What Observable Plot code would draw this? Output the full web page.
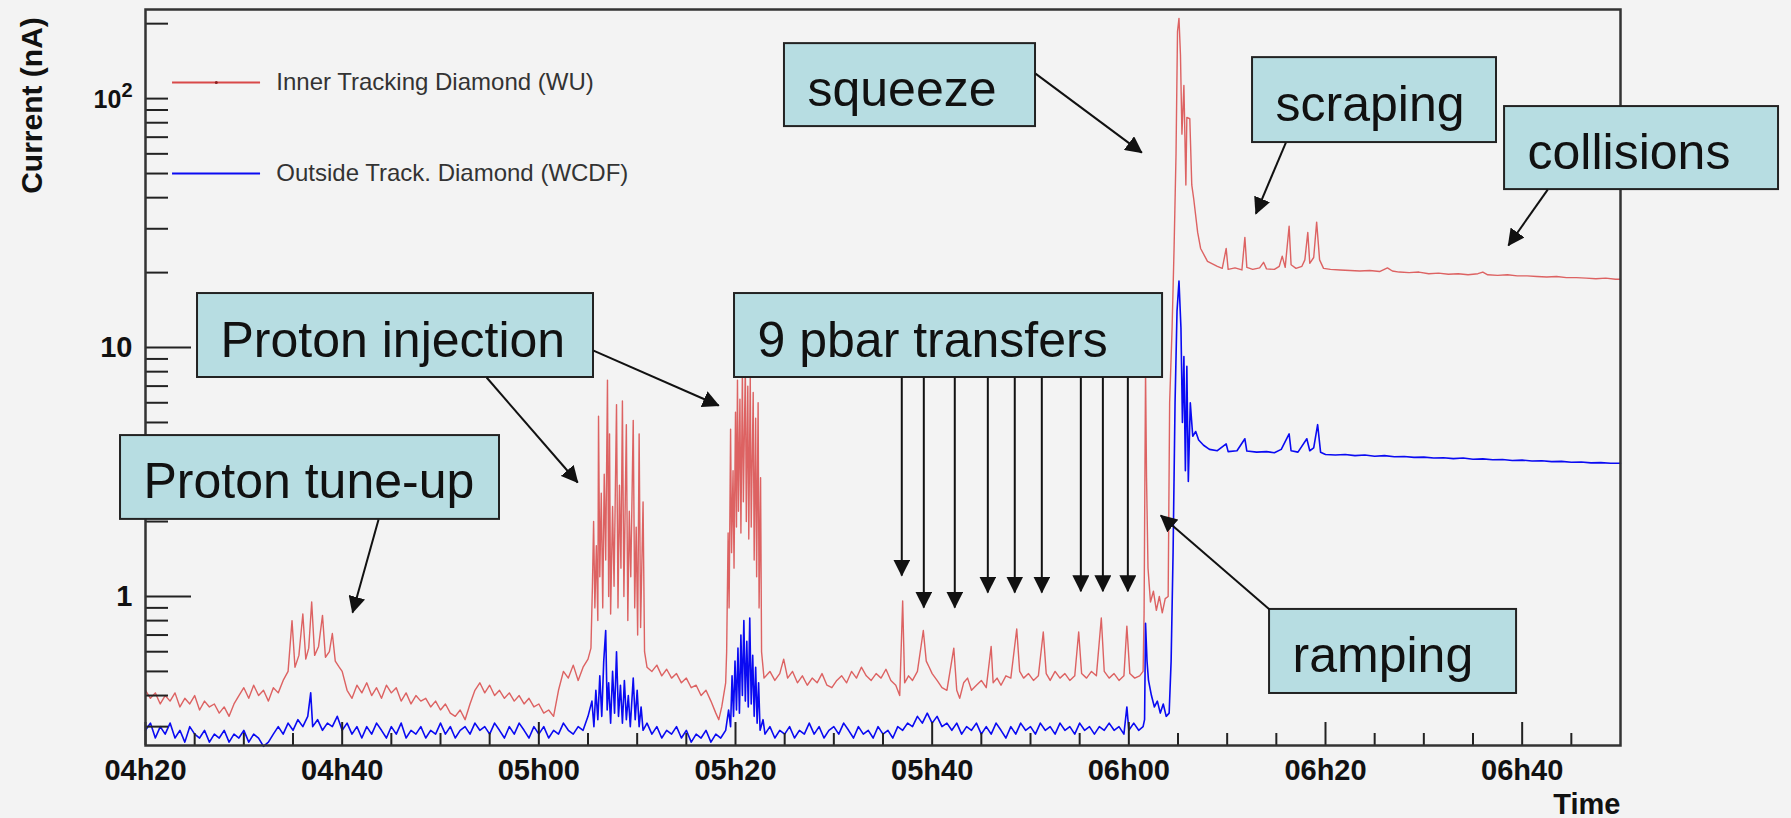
<!DOCTYPE html>
<html><head><meta charset="utf-8">
<script src="https://cdn.jsdelivr.net/npm/d3@7"></script>
<script src="https://cdn.jsdelivr.net/npm/@observablehq/plot@0.6"></script>
<style>
html,body{margin:0;padding:0;background:#f3f3f3;}
</style></head><body><div id="chart"></div>
<script>
// ---- data: [minutes after 04h20, current in nA] ----
const innerSeries = [
[0,.42],[.5,.39],[1,.41],[1.5,.37],[2,.40],[2.5,.38],[3,.41],[3.5,.36],[4,.39],[4.5,.37],[5,.40],[5.5,.35],[6,.38],[6.5,.36],[7,.37],[7.5,.34],[8,.36],[8.5,.33],[9,.37],[9.5,.40],
[10,.43],[10.5,.39],[11,.44],[11.5,.40],[12,.42],[12.5,.38],[13,.43],[13.5,.41],[14,.46],[14.5,.50],[14.9,.80],[15.2,.52],[15.6,.58],[16,.85],[16.3,.56],[16.6,.62],[16.9,.95],[17.2,.58],[17.6,.63],[18,.84],
[18.3,.57],[18.7,.60],[19,.71],[19.3,.55],[19.7,.52],[20,.50],[20.5,.42],[21,.39],[21.5,.44],[22,.41],[22.5,.45],[23,.40],[23.5,.43],[24,.39],[24.5,.44],[25,.41],[25.5,.43],[26,.38],[26.5,.41],[27,.37],
[27.5,.40],[28,.38],[28.5,.39],[29,.36],[29.5,.38],[30,.35],[30.5,.37],[31,.34],[31.5,.33],[32,.35],[32.5,.32],[33,.37],[33.5,.42],[34,.45],[34.5,.41],[35,.44],[35.5,.40],[36,.42],[36.5,.39],[37,.41],
[37.5,.38],[38,.40],[38.5,.37],[39,.39],[39.5,.36],[40,.37],[40.5,.34],[41,.35],[41.5,.33],[42,.42],[42.5,.50],[43,.47],[43.5,.53],[44,.46],[44.5,.52],[45,.56],
[45.3,.62],[45.45,1.1],[45.57,2.0],[45.7,.9],[45.85,1.6],[46,.8],[46.07,5.3],[46.2,1.2],[46.35,2.6],[46.5,.9],[46.65,3.1],[46.8,1.4],[46.98,7.4],[47.1,1.0],[47.19,4.5],[47.3,.85],[47.5,2.3],[47.65,1.1],[47.9,5.9],[48.05,.9],
[48.2,2.8],[48.35,1.3],[48.5,6.1],[48.65,1.0],[48.9,4.9],[49.05,.8],[49.2,2.2],[49.35,1.2],[49.6,5.1],[49.75,.9],[49.9,1.9],[50.05,.7],[50.2,4.5],[50.35,.75],[50.6,2.4],[50.75,.6],[51,.52],
[51.5,.50],[52,.53],[52.5,.48],[53,.51],[53.5,.47],[54,.49],[54.5,.45],[55,.47],[55.5,.43],[56,.44],[56.5,.40],[57,.42],[57.5,.38],[58,.34],[58.3,.32],[58.6,.36],[59,.45],
[59.1,.6],[59.25,1.8],[59.35,.9],[59.5,4.7],[59.6,1.5],[59.75,3.2],[59.85,1.3],[60,5.5],[60.1,1.9],[60.2,7.4],[60.3,2.2],[60.45,6.2],[60.55,1.8],[60.7,7.9],[60.8,2.4],[61,8.4],[61.1,2.0],[61.25,7.0],[61.35,1.7],[61.5,7.6],
[61.6,1.9],[61.8,6.6],[61.9,1.4],[62.05,5.2],[62.15,1.2],[62.3,6.0],[62.4,.9],[62.55,3.0],[62.65,.6],[62.9,.47],
[63.5,.50],[64,.46],[64.5,.49],[64.9,.56],[65.3,.47],[65.8,.50],[66.3,.45],[66.8,.48],[67.3,.44],[67.8,.47],[68.3,.45],[68.8,.49],[69.3,.44],[69.8,.43],[70.3,.46],[70.8,.48],[71.3,.45],[71.8,.50],[72.3,.47],[72.8,.52],
[73.3,.48],[73.8,.46],[74.3,.49],[74.8,.47],[75.3,.51],[75.8,.46],[76.3,.44],[76.7,.40],[77,.96],[77.2,.45],[77.6,.48],[78,.46],[78.5,.50],[79.1,.73],[79.4,.55],[79.7,.52],[80,.49],[80.5,.46],[81,.43],[81.5,.42],
[82.2,.62],[82.5,.42],[82.8,.39],[83.2,.45],[83.6,.47],[84,.42],[84.5,.44],[85,.46],[85.5,.43],[86,.63],[86.2,.45],[86.6,.47],[87,.44],[87.5,.48],[88,.47],[88.6,.74],[88.9,.50],[89.3,.47],[89.8,.49],[90.3,.46],
[90.8,.48],[91.3,.72],[91.6,.49],[92,.46],[92.5,.50],[93,.47],[93.5,.49],[94,.46],[94.5,.48],[94.9,.72],[95.2,.49],[95.7,.47],[96.2,.50],[96.7,.48],[97.2,.82],[97.5,.50],[98,.47],[98.5,.49],[99,.46],[99.5,.48],
[99.8,.76],[100.1,.49],[100.6,.47],[101.1,.48],[101.45,.50],
[101.55,.85],[101.7,8.1],[101.8,3.0],[101.95,1.3],[102.2,.95],[102.5,1.05],[102.8,.88],[103.1,1.0],[103.4,.86],[103.7,.98],[104,1.0],[104.15,6],[104.4,12],[104.6,25],[104.8,60],[104.95,186],[105.1,210],[105.25,150],[105.4,72],[105.6,113],
[105.8,45],[105.9,84],[106.2,83],[106.4,45],[106.6,39.5],[107,29],[107.3,25],[108,22.2],[109,21.2],
[109.5,20.8],[109.9,25],[110.1,20.6],[110.8,20.9],[111.5,20.5],[111.8,27.7],[112,21.0],[112.6,20.6],[113.3,20.9],[113.7,22],[114,20.7],[114.8,20.6],[115.3,21.2],[115.6,23.3],[115.9,21.0],[116.3,30.7],[116.5,21.5],[117,20.8],[117.6,21.2],[117.9,22.5],
[118.2,29],[118.4,21.8],[118.8,23],[119.1,31.9],[119.4,22.5],[119.8,20.8],[120.5,20.6],[121.5,20.5],[122.5,20.4],[123.5,20.3],[124.5,20.4],[125.5,20.2],[126.3,20.9],[126.8,20.3],[127.5,20.1],[128.5,20.0],[129.5,20.1],[130.5,19.8],[131.5,19.9],[132.5,19.7],
[133.5,19.8],[134.5,19.6],[135.5,19.8],[136,20.1],[136.5,19.6],[137.5,19.5],[138.5,19.6],[139.5,19.4],[140.5,19.4],[141.5,19.3],[142.5,19.2],[143.5,19.3],[144.5,19.1],[145.5,19.1],[146.5,19.0],[147.5,18.9],[148.5,19.0],[149.5,18.8],[150,18.8]
];
const outerSeries = [
[0,.29],[.5,.31],[1,.27],[1.5,.30],[2,.28],[2.5,.31],[3,.27],[3.5,.29],[4,.26],[4.5,.30],[5,.28],[5.5,.27],[6,.29],[6.5,.26],[7,.28],[7.5,.27],[8,.29],[8.5,.26],[9,.28],[9.5,.27],
[10,.29],[10.5,.26],[11,.28],[11.5,.27],[12,.25],[12.5,.26],[13,.28],[13.5,.30],[14,.28],[14.5,.31],[15,.29],[15.5,.32],[16,.30],[16.5,.33],[16.8,.41],[17,.30],[17.5,.32],[18,.29],[18.5,.31],[19,.30],
[19.5,.33],[20,.29],[20.5,.31],[21,.28],[21.5,.30],[22,.27],[22.5,.30],[23,.28],[23.5,.31],[24,.29],[24.5,.27],[25,.30],[25.5,.28],[26,.31],[26.5,.27],[27,.29],[27.5,.28],[28,.30],[28.5,.27],[29,.29],
[29.5,.28],[30,.31],[30.5,.28],[31,.30],[31.5,.27],[32,.29],[32.5,.30],[33,.28],[33.5,.31],[34,.29],[34.5,.30],[35,.28],[35.5,.31],[36,.29],[36.5,.27],[37,.30],[37.5,.28],[38,.31],[38.5,.29],[39,.27],
[39.5,.30],[40,.28],[40.5,.30],[41,.27],[41.5,.29],[42,.28],[42.5,.31],[43,.29],[43.5,.28],[44,.30],[44.5,.29],[45,.33],
[45.4,.38],[45.6,.30],[45.8,.42],[46,.32],[46.2,.48],[46.4,.33],[46.6,.55],[46.8,.73],[46.95,.35],[47.1,.45],[47.3,.31],[47.5,.50],[47.7,.34],[47.9,.60],[48.1,.33],[48.3,.44],[48.5,.31],[48.7,.46],[48.9,.32],[49.1,.40],
[49.3,.30],[49.6,.47],[49.8,.32],[50,.42],[50.2,.30],[50.4,.36],[50.6,.29],[51,.31],[51.5,.28],[52,.30],[52.5,.27],[53,.29],[53.5,.28],[54,.30],[54.5,.27],[55,.29],[55.5,.26],[56,.28],[56.5,.27],[57,.29],
[57.5,.26],[58,.28],[58.5,.27],[59,.29],
[59.3,.35],[59.5,.30],[59.65,.48],[59.8,.33],[59.95,.55],[60.1,.35],[60.25,.62],[60.4,.34],[60.55,.70],[60.7,.40],[60.85,.80],[61,.38],[61.15,.66],[61.3,.36],[61.45,.82],[61.6,.37],[61.75,.58],[61.9,.33],[62.05,.52],[62.2,.31],
[62.35,.45],[62.5,.29],[62.8,.32],[63,.28],
[63.5,.30],[64,.27],[64.5,.29],[65,.28],[65.5,.30],[66,.27],[66.5,.29],[67,.28],[67.5,.31],[68,.28],[68.5,.30],[69,.27],[69.5,.29],[70,.30],[70.5,.28],[71,.31],[71.5,.29],[72,.27],[72.5,.30],[73,.28],
[73.5,.29],[74,.27],[74.5,.30],[75,.28],[75.5,.29],[76,.27],[76.5,.30],[77,.29],[77.5,.31],[78,.30],[78.5,.33],[79,.31],[79.5,.34],[80,.31],[80.5,.33],[81,.30],[81.5,.31],[82,.29],[82.5,.31],[83,.28],
[83.5,.30],[84,.29],[84.5,.31],[85,.28],[85.5,.30],[86,.28],[86.5,.31],[87,.29],[87.5,.27],[88,.30],[88.5,.28],[89,.31],[89.5,.29],[90,.30],[90.5,.28],[91,.31],[91.5,.29],[92,.30],[92.5,.28],[93,.31],
[93.5,.29],[94,.30],[94.5,.28],[95,.31],[95.5,.29],[96,.30],[96.5,.28],[97,.30],[97.5,.29],[98,.31],[98.5,.29],[99,.30],[99.5,.28],[99.8,.36],[100,.29],[100.5,.31],[101,.29],[101.45,.30],
[101.6,.32],[101.7,.78],[101.85,.55],[102,.46],[102.3,.40],[102.6,.36],[102.9,.38],[103.2,.34],[103.5,.37],[103.8,.33],[104.1,.34],[104.3,.55],[104.5,1.5],[104.7,6],[104.9,14],[105.1,18.5],[105.3,12],[105.45,5],[105.6,9.2],[105.75,3.2],
[105.9,8.4],[106.05,2.9],[106.25,6.0],[106.5,4.4],[106.8,4.6],[107.1,4.25],[107.6,4.05],[108.2,3.9],[109,3.85],[109.9,4.1],[110.1,3.82],[111,3.85],[111.8,4.3],[112,3.84],[113,3.8],[114,3.82],[114.8,3.78],[115.5,3.9],[116.3,4.5],[116.5,3.85],
[117.2,3.8],[118.1,4.3],[118.4,3.85],[118.8,3.95],[119.2,4.9],[119.5,3.8],[120,3.72],[121,3.70],[122,3.72],[123,3.68],[124,3.70],[125,3.66],[126,3.68],[127,3.64],[128,3.65],[129,3.62],[130,3.63],[131,3.60],[132,3.61],[133,3.58],
[134,3.60],[135,3.56],[136,3.57],[137,3.54],[138,3.55],[139,3.52],[140,3.53],[141,3.50],[142,3.51],[143,3.48],[144,3.49],[145,3.46],[146,3.47],[147,3.44],[148,3.45],[149,3.43],[150,3.43]
];
const seriesNames = ["Inner Tracking Diamond (WU)", "Outside Track. Diamond (WCDF)"];
const seriesColors = ["#d84848", "#0a0af2"];

// axes
const xTickMinutes = [0, 20, 40, 60, 80, 100, 120, 140];
const xTickLabels = ["04h20", "04h40", "05h00", "05h20", "05h40", "06h00", "06h20", "06h40"];
const xMinorMinutes = [5,10,15,25,30,35,45,50,55,65,70,75,85,90,95,105,110,115,125,130,135,145];
const yLabelValues = [1, 10, 100];
const yLabelTexts = ["1", "10", "10²"];
const yLongTicks = [1, 10];
const yShortTicks = [0.3,0.4,0.5,0.6,0.7,0.8,0.9,2,3,4,5,6,7,8,9,20,30,40,50,60,70,80,90,100,200];

// annotations (data coordinates: minutes after 04h20, nA)
const boxLabels = ["squeeze", "scraping", "collisions", "Proton injection", "9 pbar transfers", "Proton tune-up", "ramping"];
const boxStart = [64.98, 112.58, 138.21, 5.29, 59.90, -2.54, 114.31];
const boxEnd   = [90.51, 137.39, 166.07, 45.56, 103.43, 36.0, 139.43];
const boxLow   = [77.2, 66.6, 43.1, 7.58, 7.58, 2.04, 0.4077];
const boxHigh  = [166.3, 146.1, 92.9, 16.48, 16.48, 4.43, 0.887];
const arrowFromT = [23.70, 34.69, 45.56, 90.51, 115.97, 142.6, 114.31, 76.91, 79.15, 82.30, 85.66, 88.40, 91.15, 95.12, 97.36, 99.90];
const arrowFromV = [2.04, 7.58, 9.72, 126.0, 66.6, 43.1, 0.887, 7.58, 7.58, 7.58, 7.58, 7.58, 7.58, 7.58, 7.58, 7.58];
const arrowToT   = [21.06, 43.95, 58.29, 101.32, 112.92, 138.6, 103.25, 76.91, 79.15, 82.30, 85.66, 88.40, 91.15, 95.12, 97.36, 99.90];
const arrowToV   = [0.862, 2.87, 5.85, 60.7, 34.5, 25.7, 2.115, 1.214, 0.903, 0.903, 1.038, 1.038, 1.038, 1.05, 1.05, 1.05];

const inner = innerSeries.map(([t, v]) => ({t, v}));
const outer = outerSeries.map(([t, v]) => ({t, v}));
const boxes = boxLabels.map((label, i) => ({label, t1: boxStart[i], t2: boxEnd[i], v1: boxLow[i], v2: boxHigh[i]}));
const arrows = arrowFromT.map((t1, i) => ({t1, v1: arrowFromV[i], t2: arrowToT[i], v2: arrowToV[i]}));
const legend = seriesNames.map((name, i) => ({name, color: seriesColors[i], v: [116, 50][i]}));

const W = 1791, H = 818, mT = 9, mB = 73, mL = 145, mR = 171;
const plotW = W - mL - mR, plotH = H - mT - mB;
const FONT = "'Liberation Sans', Arial, Helvetica, sans-serif";

const chart = Plot.plot({
  width: W, height: H,
  marginTop: mT, marginBottom: mB, marginLeft: mL, marginRight: mR,
  x: {domain: [0, 150], axis: null},
  y: {type: "log", domain: [0.252, 228], axis: null},
  style: {background: "#f3f3f3", fontFamily: FONT, color: "#111", overflow: "visible"},
  marks: [
    Plot.line(inner, {x: "t", y: "v", stroke: seriesColors[0], strokeWidth: 1.4, strokeOpacity: 0.85}),
    Plot.line(outer, {x: "t", y: "v", stroke: seriesColors[1], strokeWidth: 1.6}),
    // ticks (inward)
    Plot.tickX(xMinorMinutes, {x: d => d, stroke: "#222", strokeWidth: 2, insetTop: plotH - 12}),
    Plot.tickX(xTickMinutes, {x: d => d, stroke: "#222", strokeWidth: 2, insetTop: plotH - 23}),
    Plot.tickY(yShortTicks, {y: d => d, stroke: "#222", strokeWidth: 2, insetRight: plotW - 23}),
    Plot.tickY(yLongTicks, {y: d => d, stroke: "#222", strokeWidth: 2, insetRight: plotW - 46}),
    Plot.frame({stroke: "#333", strokeWidth: 2.5}),
    // tick labels and axis titles
    Plot.text(xTickMinutes, {x: d => d, text: (d, i) => xTickLabels[i], frameAnchor: "bottom", lineAnchor: "middle", dy: 25, fontSize: 29, fontWeight: "bold", fill: "#111"}),
    Plot.text(yLabelValues, {y: d => d, text: (d, i) => yLabelTexts[i], frameAnchor: "left", lineAnchor: "middle", dx: -13, textAnchor: "end", fontSize: 29, fontWeight: "bold", fill: "#111"}),
    Plot.text(["Current (nA)"], {frameAnchor: "top-left", textAnchor: "middle", lineAnchor: "middle", dx: -113, dy: 96, rotate: -90, fontSize: 30, fontWeight: "bold", fill: "#111"}),
    Plot.text(["Time"], {frameAnchor: "bottom-right", textAnchor: "end", lineAnchor: "middle", dy: 59, fontSize: 29, fontWeight: "bold", fill: "#111"}),
    // legend
    Plot.ruleY(legend, {y: "v", x1: 2.75, x2: 11.7, stroke: "color", strokeWidth: 2}),
    Plot.dot(legend.slice(0, 1), {x: 7.2, y: "v", r: 1.5, fill: "#8a2020"}),
    Plot.text(legend, {x: 13.3, y: "v", text: "name", textAnchor: "start", lineAnchor: "middle", fontSize: 24, fill: "#333"}),
    // annotation boxes
    Plot.rect(boxes, {x1: "t1", x2: "t2", y1: "v1", y2: "v2", fill: "#b7dde2", stroke: "#222", strokeWidth: 2}),
    Plot.text(boxes, {x: d => d.t1, y: d => Math.sqrt(d.v1 * d.v2), text: "label", textAnchor: "start", lineAnchor: "middle", dx: 23, dy: 5, fontSize: 50, fill: "#111"}),
    Plot.link(arrows, {x1: "t1", y1: "v1", x2: "t2", y2: "v2", stroke: "#111", strokeWidth: 2})
  ]
});

document.getElementById("chart").appendChild(chart);

// filled arrow heads
const svg = d3.select(chart);
const defs = svg.insert("defs", ":first-child");
defs.append("marker").attr("id", "ahead").attr("viewBox", "0 0 16 16")
  .attr("refX", 15).attr("refY", 8).attr("markerWidth", 17).attr("markerHeight", 17)
  .attr("markerUnits", "userSpaceOnUse").attr("orient", "auto")
  .append("path").attr("d", "M0,0L16,8L0,16Z").attr("fill", "#111");
svg.selectAll('g[aria-label="link"] path').attr("marker-end", "url(#ahead)");

// 10² label with a real superscript
svg.selectAll("text").each(function() {
  if (this.textContent === "10²") {
    const t = d3.select(this);
    t.text(null);
    t.append("tspan").attr("font-size", 25).text("10");
    t.append("tspan").attr("font-size", 20).attr("dy", -11).text("2");
  }
});
</script></body></html>
